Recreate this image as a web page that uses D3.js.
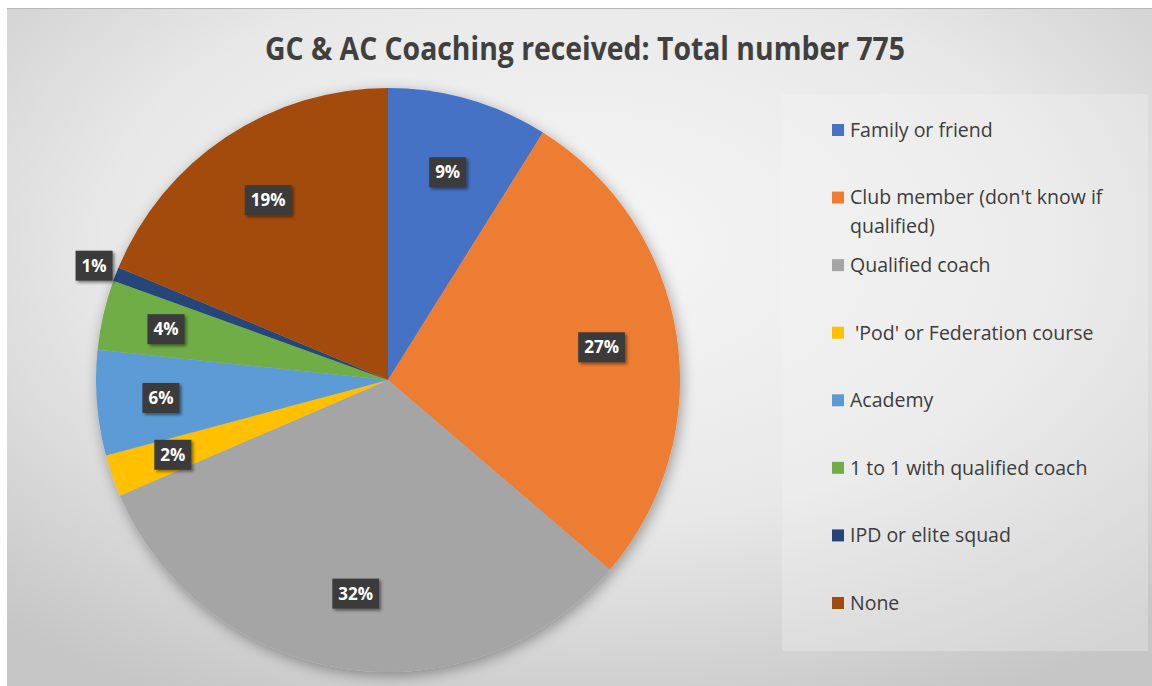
<!DOCTYPE html>
<html>
<head>
<meta charset="utf-8">
<script src="https://cdn.jsdelivr.net/npm/d3@7"></script>
<style>
  html, body { margin: 0; padding: 0; background: #ffffff; }
  svg { display: block; }
</style>
</head>
<body>
<svg id="chart" width="1152" height="686"></svg>
<script>
// Coaching received by GC & AC players (775 responses)
const categories = [
  "Family or friend",
  "Club member (don't know if qualified)",
  "Qualified coach",
  " 'Pod' or Federation course",
  "Academy",
  "1 to 1 with qualified coach",
  "IPD or elite squad",
  "None"
];
const counts = [69, 212, 250, 18, 45, 30, 6, 145];
const colors = ["#4472C4", "#ED7D31", "#A5A5A5", "#FFC000", "#5B9BD5", "#70AD47", "#264478", "#A24B10"];
const titleText = "GC & AC Coaching received: Total number 775";

const W = 1152, H = 686;
const svg = d3.select("#chart");
const defs = svg.append("defs");

// chart-area background: soft radial grey
const bg = defs.append("radialGradient").attr("id", "bgGrad")
  .attr("cx", "50%").attr("cy", "35%").attr("r", "75%");
bg.append("stop").attr("offset", "0%").attr("stop-color", "#f6f6f6");
bg.append("stop").attr("offset", "55%").attr("stop-color", "#e8e8e8");
bg.append("stop").attr("offset", "100%").attr("stop-color", "#c6c6c6");

const pieShadow = defs.append("filter").attr("id", "pieShadow")
  .attr("x", "-20%").attr("y", "-20%").attr("width", "140%").attr("height", "140%");
pieShadow.append("feDropShadow").attr("dx", 2).attr("dy", 4).attr("stdDeviation", 7)
  .attr("flood-color", "#000").attr("flood-opacity", 0.35);

const boxShadow = defs.append("filter").attr("id", "boxShadow")
  .attr("x", "-30%").attr("y", "-30%").attr("width", "160%").attr("height", "160%");
boxShadow.append("feDropShadow").attr("dx", 2).attr("dy", 2).attr("stdDeviation", 1.5)
  .attr("flood-color", "#000").attr("flood-opacity", 0.45);

svg.append("rect").attr("x", 7).attr("y", 8).attr("width", W - 7).attr("height", H - 8)
  .attr("fill", "url(#bgGrad)");
svg.append("line").attr("x1", 7).attr("x2", W).attr("y1", 8.5).attr("y2", 8.5)
  .attr("stroke", "#b8b8b8").attr("stroke-width", 1);

// legend panel
svg.append("rect").attr("x", 782).attr("y", 94).attr("width", 366).attr("height", 557)
  .attr("fill", "#f4f4f4").attr("fill-opacity", 0.3);

// title
const title = svg.append("text")
  .attr("x", 585).attr("y", 60)
  .attr("text-anchor", "middle")
  .attr("font-family", "'Open Sans', 'Noto Sans', sans-serif")
  .attr("font-weight", 700)
  .attr("font-size", 32)
  .attr("fill", "#404040")
  .text(titleText);
if (title.node().getComputedTextLength() > 640) {
  title.attr("textLength", 640).attr("lengthAdjust", "spacingAndGlyphs");
}

// pie
const cx = 388, cy = 380, R = 292;
const total = d3.sum(counts);
const data = categories.map((c, i) => ({ name: c, value: counts[i], color: colors[i] }));
const pie = d3.pie().value(d => d.value).sort(null).startAngle(0).endAngle(2 * Math.PI);
const arcs = pie(data);
const arc = d3.arc().innerRadius(0).outerRadius(R);

const g = svg.append("g").attr("transform", `translate(${cx},${cy})`);
g.append("g").attr("filter", "url(#pieShadow)")
  .selectAll("path").data(arcs).join("path")
  .attr("d", arc)
  .attr("fill", d => d.data.color);

// percentage labels in dark boxes
const pct = d => Math.round(d.data.value / total * 100) + "%";
function labelRadius(d) {
  const f = d.data.value / total;
  if (f < 0.01) return R * 1.08;
  if (f < 0.07) return R * 0.78;
  return R * 0.74;
}
const labels = g.append("g").selectAll("g").data(arcs).join("g")
  .attr("transform", d => {
    const r = labelRadius(d);
    const a = (d.startAngle + d.endAngle) / 2;
    return `translate(${r * Math.sin(a)},${-r * Math.cos(a)})`;
  });
labels.append("rect").attr("class", "box").attr("filter", "url(#boxShadow)")
  .attr("fill", "#3b3b3b");
labels.append("text")
  .attr("text-anchor", "middle").attr("dy", "0.36em")
  .attr("font-family", "'Open Sans', 'Noto Sans', sans-serif")
  .attr("font-weight", 700).attr("font-size", 17)
  .attr("fill", "#ffffff")
  .text(pct);
labels.each(function () {
  const t = d3.select(this).select("text").node().getComputedTextLength();
  d3.select(this).select("rect")
    .attr("x", -t / 2 - 6).attr("y", -15).attr("width", t + 12).attr("height", 30);
});

// legend
const ly = d3.scalePoint().domain(categories).range([130, 603]);
const legend = svg.append("g").selectAll("g").data(data).join("g")
  .attr("transform", d => `translate(832,${ly(d.name)})`);
legend.append("rect").attr("x", 0).attr("y", -6).attr("width", 12).attr("height", 12)
  .attr("fill", d => d.color);
const legText = legend.append("text")
  .attr("x", 18).attr("y", 0)
  .attr("font-family", "'Open Sans', 'Noto Sans', sans-serif")
  .attr("font-size", 19.5)
  .attr("fill", "#3c3c3c")
  .attr("xml:space", "preserve");

// wrap legend entries wider than the panel
const maxW = 280;
legText.each(function (d) {
  const text = d3.select(this);
  const words = d.name.split(" ");
  let line = [];
  let tspan = text.append("tspan").attr("x", 18).attr("dy", "0.35em");
  words.forEach(w => {
    line.push(w);
    tspan.text(line.join(" "));
    if (tspan.node().getComputedTextLength() > maxW && line.length > 1) {
      line.pop();
      tspan.text(line.join(" "));
      line = [w];
      tspan = text.append("tspan").attr("x", 18).attr("dy", "1.45em").text(w);
    }
  });
});
</script>
</body>
</html>
